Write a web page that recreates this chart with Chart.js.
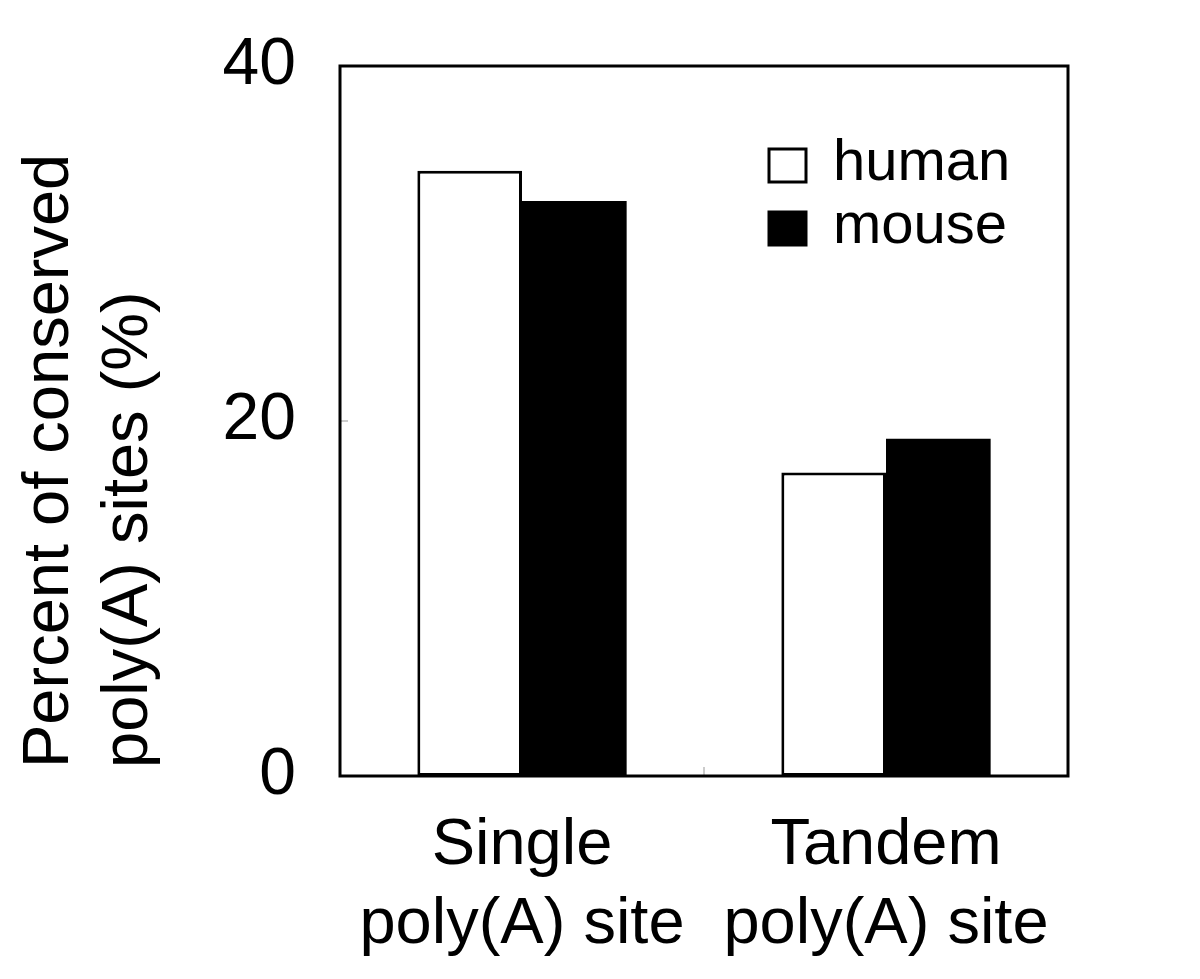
<!DOCTYPE html>
<html>
<head>
<meta charset="utf-8">
<script src="https://cdn.jsdelivr.net/npm/chart.js@4.4.0/dist/chart.umd.min.js"></script>
<style>
  html, body { margin: 0; padding: 0; background: #fff; }
  #wrap { width: 1200px; height: 979px; }
</style>
</head>
<body>
<div id="wrap"><canvas id="grafico" width="1200" height="979"></canvas></div>
<script>
// dados
const categorias = [['Single', 'poly(A) site'], ['Tandem', 'poly(A) site']];
const humano = [34.1, 17.1];
const camundongo = [32.4, 19.0];
const ticksY = [0, 20, 40];
const tituloY = ['Percent of conserved', 'poly(A) sites (%)'];

const fonte = '"Liberation Sans", Arial, sans-serif';

// moldura, marcas internas, título do eixo e legenda
const moldura = {
    id: 'moldura',
    afterDraw(chart) {
        const { ctx, chartArea: a, scales } = chart;
        ctx.save();
        // marcas pequenas para dentro
        ctx.strokeStyle = '#999';
        ctx.lineWidth = 1;
        const y20 = scales.y.getPixelForValue(20);
        ctx.beginPath();
        ctx.moveTo(a.left, y20); ctx.lineTo(a.left + 8, y20);
        const xm = (scales.x.getPixelForValue(0) + scales.x.getPixelForValue(1)) / 2;
        ctx.moveTo(xm, a.bottom); ctx.lineTo(xm, a.bottom - 9);
        ctx.stroke();
        // caixa
        ctx.strokeStyle = '#000';
        ctx.lineWidth = 3;
        ctx.strokeRect(a.left, a.top, a.right - a.left, a.bottom - a.top);
        // título do eixo y (duas linhas, alinhadas embaixo)
        ctx.fillStyle = '#000';
        ctx.font = '65px ' + fonte;
        ctx.textAlign = 'left';
        ctx.textBaseline = 'alphabetic';
        tituloY.forEach((linha, i) => {
            ctx.save();
            ctx.translate(68 + i * 79, 768);
            ctx.rotate(-Math.PI / 2);
            ctx.fillText(linha, 0, 0);
            ctx.restore();
        });
        // legenda
        ctx.font = '58px ' + fonte;
        chart.data.datasets.forEach((ds, i) => {
            const bx = 769, by = 149 + i * 63;
            ctx.fillStyle = ds.backgroundColor;
            ctx.fillRect(bx, by, 37, 33);
            ctx.lineWidth = 3;
            ctx.strokeRect(bx, by, 37, 33);
            ctx.fillStyle = '#000';
            ctx.fillText(ds.label, 833, by + 31);
        });
        ctx.restore();
    }
};

new Chart(document.getElementById('grafico'), {
    type: 'bar',
    data: {
        labels: categorias,
        datasets: [
            { label: 'human', data: humano, backgroundColor: '#ffffff', borderColor: '#000', borderWidth: 3, borderSkipped: false },
            { label: 'mouse', data: camundongo, backgroundColor: '#000000', borderColor: '#000', borderWidth: 0 }
        ]
    },
    options: {
        responsive: false,
        animation: false,
        events: [],
        layout: { padding: { left: 0, top: 66, right: 132, bottom: 0 } },
        datasets: { bar: { categoryPercentage: 0.575, barPercentage: 1.0 } },
        plugins: { legend: { display: false }, tooltip: { enabled: false } },
        scales: {
            x: {
                grid: { display: false, drawTicks: false },
                border: { display: false },
                ticks: { color: '#000', font: { family: fonte, size: 65, lineHeight: 1.21 }, padding: 31, maxRotation: 0 },
                afterFit(s) { s.height = 979 - 776; s.paddingLeft = 0; s.paddingRight = 0; }
            },
            y: {
                min: 0, max: 40,
                afterBuildTicks(s) { s.ticks = ticksY.map(v => ({ value: v })); },
                grid: { display: false, drawTicks: false },
                border: { display: false },
                ticks: { color: '#000', font: { family: fonte, size: 66 }, padding: 44 },
                afterFit(s) { s.width = 340; s.paddingTop = 0; s.paddingBottom = 0; }
            }
        }
    },
    plugins: [moldura]
});
</script>
</body>
</html>
